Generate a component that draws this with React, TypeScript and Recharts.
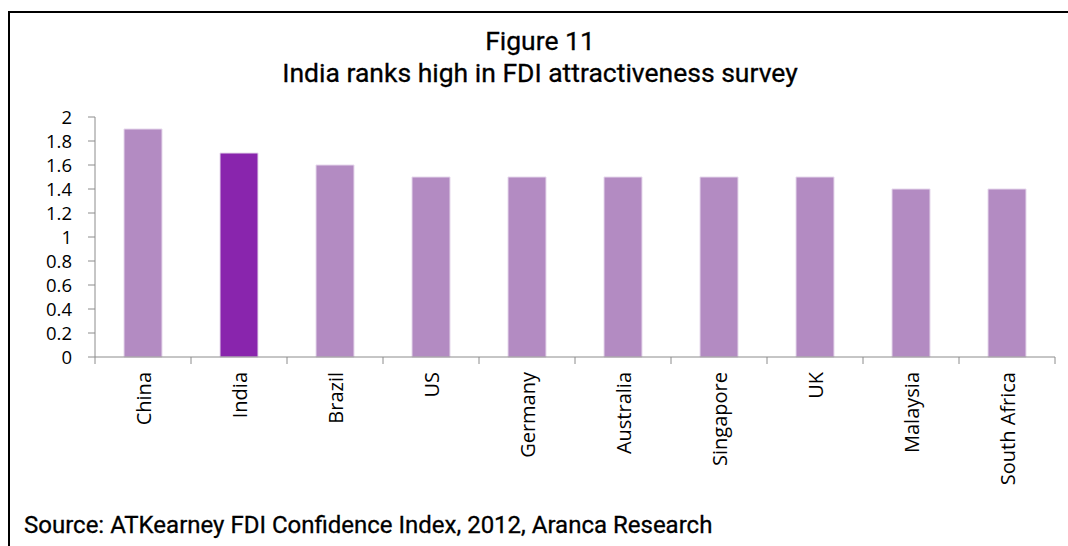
import React from "react";
import { BarChart, Bar, XAxis, YAxis, Cell } from "recharts";

// Countries and their FDI confidence index scores
const countries = [
  "China",
  "India",
  "Brazil",
  "US",
  "Germany",
  "Australia",
  "Singapore",
  "UK",
  "Malaysia",
  "South Africa",
];
const scores = [1.9, 1.7, 1.6, 1.5, 1.5, 1.5, 1.5, 1.5, 1.4, 1.4];
const yTicks = [0, 0.2, 0.4, 0.6, 0.8, 1, 1.2, 1.4, 1.6, 1.8, 2];
const highlight = "India";

const data = countries.map((country, i) => ({ country, score: scores[i] }));

const LIGHT = "#B38BC2";
const DARK = "#8925AD";
const AXIS = "#8c8c8c";
const TICK_FONT = "'Open Sans', sans-serif";

// rotated label plus Excel-style tick marks on the category boundaries
const CountryTick = (props: any) => {
  const { x, y, payload, index, visibleTicksCount } = props;
  const half = payload.offset || 0;
  const axisY = y - 15;
  const last = index === visibleTicksCount - 1;
  return (
    <g>
      <line x1={x - half} x2={x - half} y1={axisY} y2={axisY + 7} stroke={AXIS} />
      {last && (
        <line x1={x + half} x2={x + half} y1={axisY} y2={axisY + 7} stroke={AXIS} />
      )}
      <text
        x={x}
        y={y}
        transform={`rotate(-90, ${x}, ${y})`}
        textAnchor="end"
        dominantBaseline="central"
        fontFamily={TICK_FONT}
        fontSize={20}
        fill="#000"
      >
        {payload.value}
      </text>
    </g>
  );
};

const App: React.FC = () => {
  return (
    <div
      style={{
        position: "absolute",
        left: 0,
        top: 0,
        width: 1068,
        height: 546,
        overflow: "hidden",
        background: "#fff",
      }}
    >
      <div
        style={{
          position: "absolute",
          left: 8,
          top: 11,
          width: 1200,
          height: 700,
          border: "2px solid #000",
        }}
      />
      <div
        style={{
          position: "absolute",
          left: 0,
          top: 25,
          width: 1080,
          textAlign: "center",
          fontFamily: "Roboto, sans-serif",
          fontSize: 26.5,
          lineHeight: "32px",
          color: "#000",
          WebkitTextStroke: "0.3px #000",
        }}
      >
        Figure 11
        <br />
        India ranks high in FDI attractiveness survey
      </div>
      <BarChart
        width={1068}
        height={546}
        data={data}
        margin={{ top: 117, right: 13, bottom: 39, left: 0 }}
        style={{ position: "absolute", left: 0, top: 0 }}
      >
        <XAxis
          dataKey="country"
          interval={0}
          height={150}
          tickLine={false}
          tickSize={7}
          tickMargin={8}
          axisLine={{ stroke: AXIS }}
          tick={<CountryTick />}
        />
        <YAxis
          width={95}
          domain={[0, 2]}
          ticks={yTicks}
          interval={0}
          tickSize={7}
          tickMargin={16}
          axisLine={{ stroke: AXIS }}
          tickLine={{ stroke: AXIS }}
          tick={{ fill: "#000", fontSize: 18.5, fontFamily: TICK_FONT }}
        />
        <Bar dataKey="score" barSize={38} isAnimationActive={false}>
          {data.map((d) => (
            <Cell
              key={d.country}
              fill={d.country === highlight ? DARK : LIGHT}
              stroke="#e6d8ec"
              strokeWidth={1}
            />
          ))}
        </Bar>
      </BarChart>
      <div
        style={{
          position: "absolute",
          left: 24,
          top: 511,
          fontFamily: "Roboto, sans-serif",
          fontSize: 24,
          lineHeight: "28px",
          color: "#000",
          whiteSpace: "nowrap",
          WebkitTextStroke: "0.3px #000",
        }}
      >
        Source: ATKearney FDI Confidence Index, 2012, Aranca Research
      </div>
    </div>
  );
};

export default App;
